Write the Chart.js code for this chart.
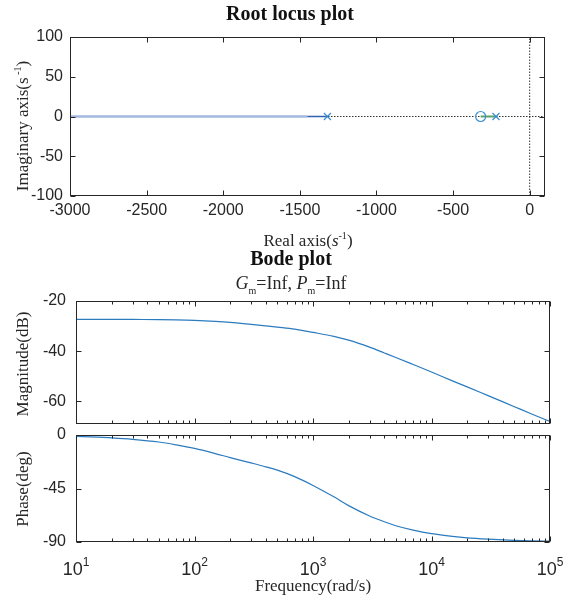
<!DOCTYPE html>
<html>
<head>
<meta charset="utf-8">
<script src="https://cdn.jsdelivr.net/npm/chart.js@4.4.0/dist/chart.umd.min.js"></script>
<style>
body { margin:0; width:580px; height:598px; background:#fff; position:relative; overflow:hidden; font-family:"Liberation Serif", serif; }
canvas { position:absolute; left:0; }
.txt { position:absolute; white-space:nowrap; color:#262626; line-height:1; }
.ttl { font-weight:bold; font-size:20px; color:#111; transform:translate(-50%,-50%); }
.lbl { font-size:17px; transform:translate(-50%,-50%); }
.rot { transform:translate(-50%,-50%) rotate(-90deg); }
sup, sub { font-size:10px; line-height:0; }
</style>
</head>
<body>
<canvas id="rlChart" width="580" height="210" style="top:20px;width:580px;height:210px"></canvas>
<canvas id="magChart" width="580" height="140" style="top:290px;width:580px;height:140px"></canvas>
<canvas id="phaseChart" width="580" height="173" style="top:425px;width:580px;height:173px"></canvas>

<div class="txt ttl" style="left:290px;top:13px">Root locus plot</div>
<div class="txt lbl rot" style="left:22px;top:126px">Imaginary axis(s<sup> -1</sup>)</div>
<div class="txt lbl" style="left:308px;top:240px">Real axis(<i>s</i><sup>-1</sup>)</div>
<div class="txt ttl" style="left:291px;top:258px">Bode plot</div>
<div class="txt lbl" style="left:291px;top:283px;font-size:18px"><i>G</i><sub>m</sub>=Inf, <i>P</i><sub>m</sub>=Inf</div>
<div class="txt lbl rot" style="left:22px;top:364px">Magnitude(dB)</div>
<div class="txt lbl rot" style="left:22px;top:489px">Phase(deg)</div>
<div class="txt lbl" style="left:313px;top:585px">Frequency(rad/s)</div>

<script>
// 根轨迹数据
const rlXRange = [-3000, 100];
const rlYRange = [-100, 100];
const rlXTicks = [-3000, -2500, -2000, -1500, -1000, -500, 0];
const rlYTicks = [-100, -50, 0, 50, 100];
const polesX = [-1320, -220];
const zerosX = [-320];
const branch1FarX = [-3000, -1450];
const branch1NearX = [-1450, -1320];
const branch2X = [-320, -220];

// Bode 数据
const freq = [10, 15, 20, 30, 50, 70, 100, 150, 200, 300, 400, 500, 700, 1000, 1500, 2000, 3000, 4000, 5000, 7000, 10000, 15000, 20000, 30000, 50000, 70000, 100000];
const magDb = [-27.3, -27.3, -27.3, -27.35, -27.4, -27.5, -27.7, -28.1, -28.5, -29.3, -29.9, -30.4, -31.2, -32.5, -34.1, -35.6, -38.4, -40.7, -42.5, -45.3, -48.3, -51.8, -54.2, -57.7, -62.1, -65.0, -68.0];
const phaseDeg = [-1.1, -1.8, -2.4, -3.6, -5.9, -8.3, -11.3, -15.6, -19.0, -23.5, -26.8, -29.6, -35.0, -42.4, -52.0, -59.4, -68.1, -73.0, -76.3, -80.0, -83.0, -85.3, -86.5, -87.6, -88.6, -89.0, -89.3];
const freqTicks = [10, 100, 1000, 10000, 100000];
const magRange = [-69, -20];
const magTicks = [-60, -40, -20];
const phaseRange = [-90, 0];
const phaseTicks = [-90, -45, 0];

const axisColor = '#262626';
const lineBlue = '#2b7bbf';
const sansFont = '"Liberation Sans", Arial, sans-serif';

// 画 MATLAB 风格的框、向内刻度和刻度标签
const boxAxes = {
    id: 'boxAxes',
    afterDraw(chart, args, opts) {
        const { ctx, chartArea: a, scales } = chart;
        const x = scales.x, y = scales.y;
        const L = Math.round(a.left) + 0.5, R = Math.round(a.right) - 0.5;
        const T = Math.round(a.top) + 0.5, B = Math.round(a.bottom) - 0.5;
        ctx.save();
        ctx.strokeStyle = axisColor;
        ctx.lineWidth = 1;
        ctx.beginPath();
        const drawX = (v, len) => {
            const px = Math.round(x.getPixelForValue(v)) + 0.5;
            ctx.moveTo(px, B); ctx.lineTo(px, B - len);
            ctx.moveTo(px, T); ctx.lineTo(px, T + len);
        };
        (opts.xMajor || []).forEach(v => drawX(v, 5));
        (opts.xMinor || []).forEach(v => drawX(v, 3));
        (opts.yMajor || []).forEach(v => {
            const py = Math.round(y.getPixelForValue(v)) + 0.5;
            ctx.moveTo(L, py); ctx.lineTo(L + 5, py);
            ctx.moveTo(R, py); ctx.lineTo(R - 5, py);
        });
        ctx.stroke();
        ctx.strokeRect(L, T, R - L, B - T);

        ctx.fillStyle = axisColor;
        ctx.font = '16px ' + sansFont;
        // y 刻度标签
        ctx.textAlign = 'right';
        ctx.textBaseline = 'middle';
        (opts.yMajor || []).forEach(v => {
            ctx.fillText(String(v), a.left - opts.yPad, y.getPixelForValue(v));
        });
        // x 刻度标签（线性）
        if (opts.xLabels) {
            ctx.textAlign = 'center';
            opts.xMajor.forEach(v => {
                ctx.fillText(String(v), x.getPixelForValue(v), a.bottom + opts.xPad);
            });
        }
        // 对数轴标签 10^n
        if (opts.expLabels) {
            ctx.textBaseline = 'alphabetic';
            ctx.textAlign = 'left';
            opts.xMajor.forEach(v => {
                const px = x.getPixelForValue(v);
                const n = String(Math.round(Math.log10(v)));
                ctx.font = '18px ' + sansFont;
                const wb = ctx.measureText('10').width;
                ctx.font = '12px ' + sansFont;
                const we = ctx.measureText(n).width;
                const x0 = px - (wb + we) / 2;
                ctx.font = '18px ' + sansFont;
                ctx.fillText('10', x0, a.bottom + 33);
                ctx.font = '12px ' + sansFont;
                ctx.fillText(n, x0 + wb, a.bottom + 24);
            });
        }
        ctx.restore();
    }
};

function minorTicks(decades) {
    const out = [];
    decades.slice(0, -1).forEach(d => {
        for (let k = 2; k <= 9; k++) out.push(d * k);
    });
    return out;
}

const baseOpts = {
    responsive: false,
    animation: false,
    events: [],
    plugins: { legend: { display: false }, tooltip: { enabled: false } }
};

const pts = xs => xs.map(v => ({ x: v, y: 0 }));

// 根轨迹图
new Chart(document.getElementById('rlChart'), {
    type: 'scatter',
    data: {
        datasets: [
            { data: pts(polesX), pointStyle: 'crossRot', pointRadius: 5, borderColor: '#3d8fd1', borderWidth: 1.2, showLine: false, order: 0 },
            { data: pts(zerosX), pointStyle: 'circle', pointRadius: 5, borderColor: '#3d8fd1', backgroundColor: 'rgba(0,0,0,0)', borderWidth: 1.2, showLine: false, order: 0 },
            { data: pts(branch1FarX), showLine: true, borderColor: '#a3b9de', borderWidth: 2.5, pointRadius: 0, order: 1 },
            { data: pts(branch1NearX), showLine: true, borderColor: '#2f62b3', borderWidth: 1.5, pointRadius: 0, order: 1 },
            { data: pts(branch2X), showLine: true, borderColor: '#5aa36b', borderWidth: 2, pointRadius: 0, order: 1 },
            { data: pts(rlXRange), showLine: true, borderColor: '#333', borderWidth: 1, borderDash: [1.5, 1.5], pointRadius: 0, order: 5 },
            { data: rlYRange.map(v => ({ x: 0, y: v })), showLine: true, borderColor: '#333', borderWidth: 1, borderDash: [1.5, 1.5], pointRadius: 0, order: 5 }
        ]
    },
    options: {
        ...baseOpts,
        layout: { padding: { left: 70, right: 35, top: 17, bottom: 34 } },
        scales: {
            x: { type: 'linear', min: rlXRange[0], max: rlXRange[1], display: false },
            y: { type: 'linear', min: rlYRange[0], max: rlYRange[1], display: false }
        },
        plugins: { ...baseOpts.plugins, boxAxes: { xMajor: rlXTicks, yMajor: rlYTicks, yPad: 7, xLabels: true, xPad: 15 } }
    },
    plugins: [boxAxes]
});

function bodeChart(id, values, range, yTicks, padding, extra) {
    return new Chart(document.getElementById(id), {
        type: 'scatter',
        data: {
            datasets: [{
                data: freq.map((f, i) => ({ x: f, y: values[i] })),
                showLine: true, borderColor: lineBlue, borderWidth: 1.2, pointRadius: 0,
                cubicInterpolationMode: 'monotone'
            }]
        },
        options: {
            ...baseOpts,
            layout: { padding: padding },
            scales: {
                x: { type: 'logarithmic', min: freqTicks[0], max: freqTicks[freqTicks.length - 1], display: false },
                y: { type: 'linear', min: range[0], max: range[1], display: false }
            },
            plugins: { ...baseOpts.plugins, boxAxes: Object.assign({ xMajor: freqTicks, xMinor: minorTicks(freqTicks), yMajor: yTicks, yPad: 10 }, extra) }
        },
        plugins: [boxAxes]
    });
}

// 幅频图
bodeChart('magChart', magDb, magRange, magTicks, { left: 76, right: 30, top: 11, bottom: 6 }, {});
// 相频图
bodeChart('phaseChart', phaseDeg, phaseRange, phaseTicks, { left: 76, right: 30, top: 10, bottom: 56 }, { expLabels: true });
</script>
</body>
</html>
